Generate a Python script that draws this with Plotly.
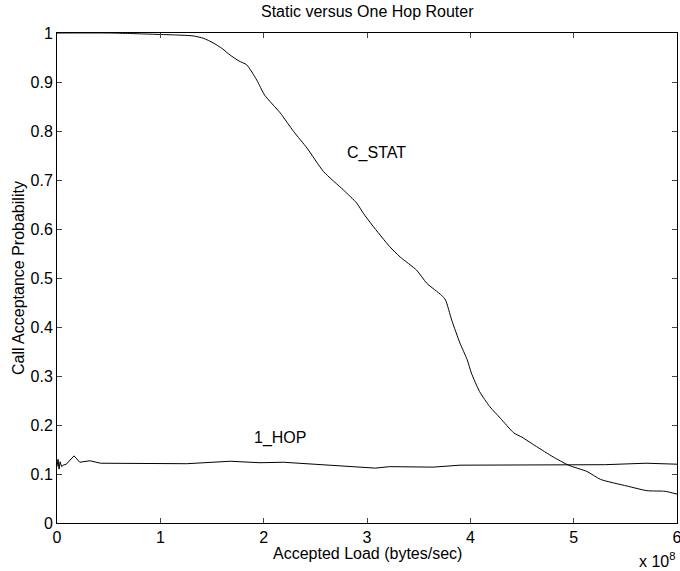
import plotly.graph_objects as go

# C_STAT series
cstat_x = [0, 0.5, 0.7, 0.85, 1.0, 1.15, 1.32, 1.42, 1.51, 1.6, 1.675, 1.76, 1.836, 1.933,
           2.01, 2.16, 2.29, 2.42, 2.58, 2.77, 2.90, 2.965, 3.05, 3.22, 3.32, 3.48, 3.58,
           3.72, 3.76, 3.82, 3.90, 3.97, 4.01, 4.09, 4.19, 4.29, 4.42, 4.50, 4.64, 4.80,
           4.95, 5.13, 5.26, 5.515, 5.71, 5.885, 6.0]
cstat_y = [1.0, 1.0, 0.999, 0.998, 0.997, 0.996, 0.994, 0.989, 0.980, 0.968, 0.955, 0.943,
           0.935, 0.904, 0.873, 0.837, 0.799, 0.765, 0.717, 0.680, 0.653, 0.632, 0.608,
           0.564, 0.543, 0.516, 0.489, 0.465, 0.455, 0.414, 0.367, 0.333, 0.306, 0.268,
           0.237, 0.214, 0.184, 0.175, 0.156, 0.135, 0.118, 0.105, 0.089, 0.0755, 0.066,
           0.0647, 0.059]

# 1_HOP series
hop_x = [0, 0.01, 0.02, 0.03, 0.045, 0.06, 0.09, 0.165, 0.22, 0.32, 0.42, 0.9, 1.255, 1.675,
         1.965, 2.19, 2.51, 2.64, 3.08, 3.22, 3.64, 3.90, 4.3, 4.6, 5.0, 5.3, 5.7, 6.0]
hop_y = [0.115, 0.13, 0.11, 0.125, 0.115, 0.118, 0.120, 0.137, 0.124, 0.127, 0.122, 0.122,
         0.121, 0.126, 0.123, 0.124, 0.120, 0.118, 0.112, 0.115, 0.114, 0.118, 0.118, 0.119,
         0.118, 0.119, 0.122, 0.120]

x_ticks = [0, 1, 2, 3, 4, 5, 6]
y_ticks = [0, 0.1, 0.2, 0.3, 0.4, 0.5, 0.6, 0.7, 0.8, 0.9, 1]
y_tick_text = ["0", "0.1", "0.2", "0.3", "0.4", "0.5", "0.6", "0.7", "0.8", "0.9", "1"]

FONT = "Liberation Sans, Arial, Helvetica, sans-serif"
FS = 16

fig = go.Figure()
fig.add_trace(go.Scatter(x=cstat_x, y=cstat_y, mode="lines", line_shape="spline",
                         line=dict(color="black", width=1, smoothing=0.6), name="C_STAT"))
fig.add_trace(go.Scatter(x=hop_x, y=hop_y, mode="lines",
                         line=dict(color="black", width=1), name="1_HOP"))

fig.update_layout(
    width=680, height=571,
    margin=dict(l=57, r=3, t=33, b=48, autoexpand=False),
    paper_bgcolor="white", plot_bgcolor="white",
    showlegend=False,
    font=dict(family=FONT, size=FS, color="black"),
    xaxis=dict(range=[0, 6], tickvals=x_ticks, ticks="inside", ticklen=5,
               showgrid=False, zeroline=False, showline=True, linecolor="black",
               linewidth=1, mirror="ticks", tickfont=dict(size=FS),
               ticklabeloverflow="allow", automargin=False),
    yaxis=dict(range=[0, 1], tickvals=y_ticks, ticktext=y_tick_text, ticks="inside",
               ticklen=5, showgrid=False, zeroline=False, showline=True,
               linecolor="black", linewidth=1, mirror="ticks", tickfont=dict(size=FS),
               ticklabeloverflow="allow", automargin=False),
    annotations=[
        dict(text="Static versus One Hop Router", x=0.5, y=1, xref="paper", yref="paper",
             xanchor="center", yanchor="bottom", yshift=11, showarrow=False,
             font=dict(size=FS)),
        dict(text="Accepted Load (bytes/sec)", x=0.5, y=0, xref="paper", yref="paper",
             xanchor="center", yanchor="top", yshift=-20, showarrow=False,
             font=dict(size=FS)),
        dict(text="Call Acceptance Probability", x=0, y=0.5, xref="paper", yref="paper",
             xanchor="center", yanchor="middle", xshift=-39, textangle=-90,
             showarrow=False, font=dict(size=FS)),
        dict(text="x 10<sup>8</sup>", x=1, y=0, xref="paper", yref="paper",
             xanchor="right", yanchor="top", yshift=-25, showarrow=False,
             font=dict(size=FS)),
        dict(text="C_STAT", x=3.09, y=0.755, xref="x", yref="y", showarrow=False,
             font=dict(size=FS)),
        dict(text="1_HOP", x=2.16, y=0.173, xref="x", yref="y", showarrow=False,
             font=dict(size=FS)),
    ],
)

fig.write_html("out.html")
